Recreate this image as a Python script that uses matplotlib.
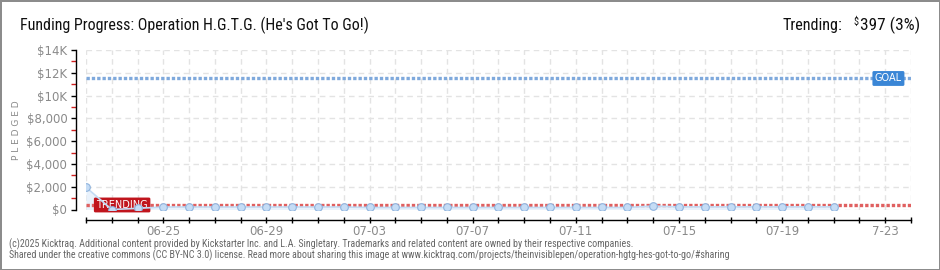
import matplotlib
matplotlib.use("Agg")
import matplotlib.pyplot as plt
from matplotlib import font_manager
from matplotlib.ticker import FixedLocator, FuncFormatter
import numpy as np

# ---- data ----
n_days = 32  # x-range in days, 06-22 .. 07-24
pledged = [1950, 0, 100, 220, 220, 220, 220, 220, 220, 220, 220,
           180, 180, 180, 180, 180, 180, 180, 180, 180, 180, 180,
           300, 230, 230, 230, 230, 230, 230, 230]
goal = 11500
trending = 397
trending_pct = 3
xtick_days = [3, 7, 11, 15, 19, 23, 27, 31]
xtick_labels = ["06-25", "06-29", "07-03", "07-07", "07-11", "07-15", "07-19", "7-23"]
ytick_vals = [0, 2000, 4000, 6000, 8000, 10000, 12000, 14000]
ytick_labels = ["$0", "$2,000", "$4,000", "$6,000", "$8,000", "$10K", "$12K", "$14K"]

title = "Funding Progress: Operation H.G.T.G. (He's Got To Go!)"
footer1 = ("(c)2025 Kicktraq. Additional content provided by Kickstarter Inc. and L.A. Singletary. "
           "Trademarks and related content are owned by their respective companies.")
footer2 = ("Shared under the creative commons (CC BY-NC 3.0) license. Read more about sharing this image at "
           "www.kicktraq.com/projects/theinvisiblepen/operation-hgtg-hes-got-to-go/#sharing")

# pick the narrowest available sans family
installed = {f.name for f in font_manager.fontManager.ttflist}
narrow = "DejaVu Sans"
for cand in ["Roboto Condensed", "Liberation Sans Narrow", "DejaVu Sans Condensed",
             "Open Sans Condensed", "Noto Sans Condensed", "Roboto", "Lato"]:
    if cand in installed:
        narrow = cand
        break
NARROW = [narrow, "DejaVu Sans"]
GRAY = "#8a8a8a"

W, H = 940, 270
fig = plt.figure(figsize=(W / 100, H / 100), dpi=100)
fig.patch.set_facecolor("white")
fig.patch.set_edgecolor("#8c8c8c")
fig.patch.set_linewidth(2)

ax = fig.add_axes([86 / W, 1 - 209.5 / H, (911 - 86) / W, (209.5 - 50) / H])
ax.set_xlim(0, n_days)
ax.set_ylim(0, 14000)

days = np.arange(len(pledged))

# grid
for d in range(n_days + 1):
    ax.axvline(d, color="#e3e3e3", lw=1, ls=(0, (4, 3)), zorder=0)
for v in ytick_vals:
    ax.axhline(v, color="#e3e3e3", lw=1, ls=(0, (4, 3)), zorder=0)

# goal and trending lines
ax.axhline(goal, color="#7fa9dc", lw=2.4, ls=(0, (1, 0.6)), zorder=3)
ax.axhline(trending, color="#e06060", lw=2.4, ls=(0, (1, 0.6)), zorder=3)

ax.text(31.65, goal, "GOAL", ha="right", va="center", color="white",
        fontsize=7, family="DejaVu Sans", zorder=4,
        bbox=dict(boxstyle="round,pad=0.25,rounding_size=0.15", fc="#3a86d6", ec="none"))
ax.text(0.4, trending, "TRENDING", ha="left", va="center", color="white",
        fontsize=7, family="DejaVu Sans", zorder=4,
        bbox=dict(boxstyle="round,pad=0.25,rounding_size=0.15", fc="#c0151d", ec="none"))

# pledged series
ax.fill_between(days, pledged, 0, color="#e9f2fc", zorder=1, lw=0)
ax.plot(days, pledged, color="#c2dbf4", lw=1.2, zorder=5)
ax.plot(days, pledged, ls="none", marker="o", ms=5.5, mfc="#c5dcf5",
        mec="#8fb3dd", mew=0.8, zorder=6)

# axes styling
for s in ("top", "right"):
    ax.spines[s].set_visible(False)
ax.spines["left"].set_position(("outward", 7))
ax.spines["bottom"].set_position(("outward", 7.5))
for s in ("left", "bottom"):
    ax.spines[s].set_color("black")
    ax.spines[s].set_linewidth(1)

ax.yaxis.set_major_locator(FixedLocator(ytick_vals))
ax.set_yticklabels(ytick_labels)
ax.yaxis.set_minor_locator(FixedLocator([1000, 3000, 5000, 7000, 9000, 11000, 13000]))
ax.tick_params(axis="y", which="major", direction="out", length=3.5, width=1,
               color="black", labelcolor=GRAY, labelsize=8.5, pad=3)
ax.tick_params(axis="y", which="minor", direction="out", length=3.5, width=1, color="#d02020")

ax.xaxis.set_major_locator(FixedLocator(list(range(n_days + 1))))
lbl = {d: t for d, t in zip(xtick_days, xtick_labels)}
ax.xaxis.set_major_formatter(FuncFormatter(lambda v, p: lbl.get(int(round(v)), "")))
ax.tick_params(axis="x", which="major", direction="inout", length=5, width=1,
               color="black", labelcolor=GRAY, labelsize=8.5, pad=1)
for t in ax.get_xticklabels() + ax.get_yticklabels():
    t.set_family("DejaVu Sans")

ax.set_ylabel("P L E D G E D", color=GRAY, fontsize=6.5, labelpad=4)
ax.yaxis.label.set_family("DejaVu Sans")

# header
t_title = fig.text(20 / W, 1 - 30 / H, title, ha="left", va="baseline", fontsize=12,
                   family=NARROW, color="#111111")
t_tr = fig.text(783 / W, 1 - 30 / H, "Trending:", ha="left", va="baseline", fontsize=12,
                family=NARROW, color="#111111")
t_dollar = fig.text(853 / W, 1 - 25 / H, "$", ha="left", va="baseline", fontsize=7.5,
                    family=NARROW, color="#111111")
t_val = fig.text(920 / W, 1 - 30 / H, f"{trending} ({trending_pct}%)", ha="right",
                 va="baseline", fontsize=12, family=NARROW, color="#111111")

# size header text so its run length fits the available width
renderer = fig.canvas.get_renderer()
for txt, width in [(t_title, 348), (t_tr, 61), (t_val, 60)]:
    for _ in range(3):
        w = txt.get_window_extent(renderer).width
        txt.set_fontsize(txt.get_fontsize() * width / w)

# footer
fig.text(9 / W, 1 - 247 / H, footer1, ha="left", va="baseline", fontsize=7.2,
         family=NARROW, color="#666666")
fig.text(9 / W, 1 - 258.5 / H, footer2, ha="left", va="baseline", fontsize=7.2,
         family=NARROW, color="#666666")

fig.savefig("out.png", dpi=100, facecolor=fig.get_facecolor(), edgecolor=fig.get_edgecolor())
